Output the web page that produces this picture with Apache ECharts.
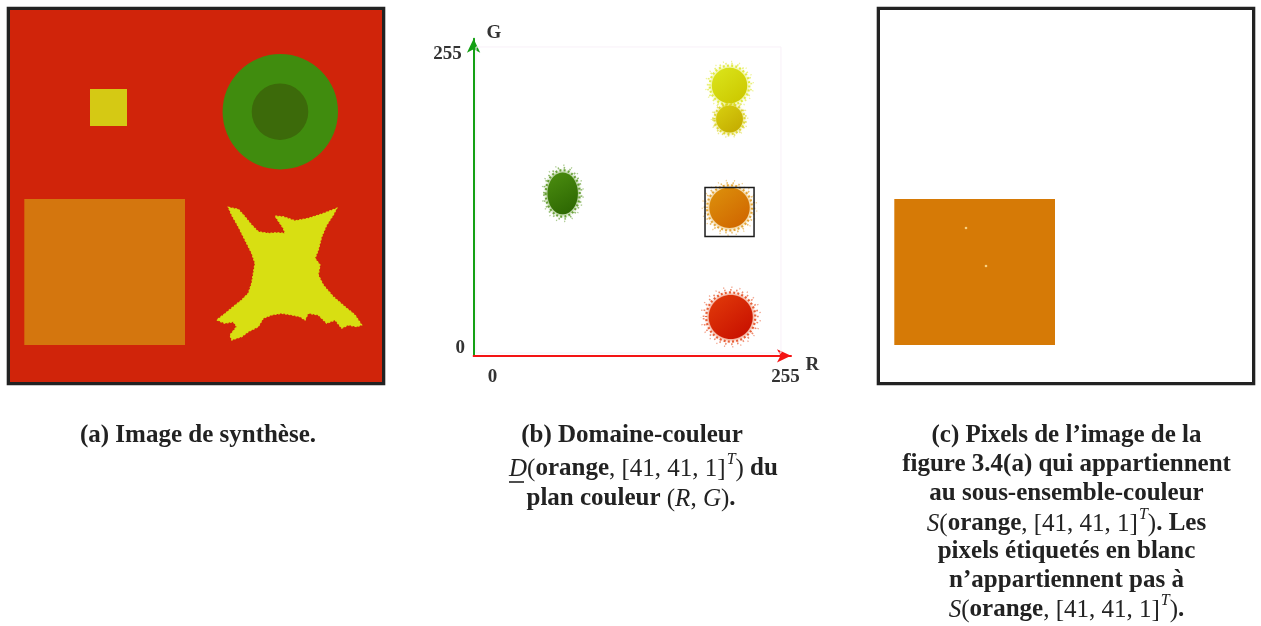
<!DOCTYPE html>
<html><head><meta charset="utf-8">
<script src="https://cdn.jsdelivr.net/npm/echarts@6/dist/echarts.min.js"></script>
<style>html,body{margin:0;padding:0;background:#fff}#c{width:1261px;height:626px}</style>
</head><body><div id="c"></div><script>
// ---------- Panel (a): synthetic image, image coordinates 0..372 (y downward)
const imageSize = 372;
const rectNames = ['carré jaune', 'rectangle orange'];
const rectX0 = [80, 14.3];
const rectY0 = [79, 189];
const rectX1 = [117, 175];
const rectY1 = [116, 335];
const rectColors = ['#d5c914', '#d4760e'];

const diskNames = ['anneau vert', 'disque vert foncé'];
const diskCX = [270.3, 270];
const diskCY = [101.7, 101.7];
const diskR = [57.7, 28.3];
const diskColors = ['#408c0e', '#3c6a0a'];

const blobX = [218.3,228.3,235,241.7,248.3,258.3,266.7,275,273.3,265,273.3,285,298.3,311.7,326.7,323.3,316.7,311.7,308.3,305,310,308.3,313.3,323.3,335,345,351.7,346.7,338.3,331.7,325,316.7,308.3,298.3,295,290,281.7,271.7,261.7,253.3,248.3,238.3,231.7,221.7,220,226.7,223.3,215,206.7,213.3,223.3,231.7,238.3,241.7,243.3,245,241.7,235,228.3,221.7];
const blobY = [197.3,199.3,206.7,215,221.7,223.3,222.7,223.3,218.3,206,206.7,210.7,208.3,204,198.3,205,215,226.7,240,248.3,255,265,275,286.7,296.7,305,315,316.7,315,318.3,310,313.3,305,303.3,310,306.7,305,303.3,305,308.3,316.7,321.7,326.7,330,325,316.7,311.7,313.3,310,305,296.7,290,283.3,273.3,263.3,253.3,243.3,230,216.7,205];

// ---------- Panel (b): colour plane (R,G)
const clusterNames = ['jaune', 'jaune foncé', 'vert', 'orange', 'rouge'];
const clusterR = [212, 212, 72.5, 212, 213];
const clusterG = [223, 195, 133, 121, 30];
const clusterSpreadR = [14.5, 11, 12.5, 16.5, 18];
const clusterSpreadG = [14.5, 11, 17, 16.5, 18];
const clusterLight = ['#dbe61c', '#d8d010', '#4c8e10', '#dd920c', '#e23c0a'];
const clusterDark  = ['#ccc800', '#c4ac00', '#2c6602', '#d06600', '#c81000'];
const boxR = [191.5, 232.5];
const boxG = [97, 138];
const tickValues = [0, 255];

// ---------- Panel (c)
const keptRectIndex = 1;
const dotX = [86, 106];
const dotY = [218, 256];

const serif = '"Liberation Serif", "DejaVu Serif", serif';

function rectItem(color) {
  return function (params, api) {
    const p0 = api.coord([api.value(0), api.value(1)]);
    const p1 = api.coord([api.value(2), api.value(3)]);
    return {type: 'rect', shape: {x: Math.min(p0[0], p1[0]), y: Math.min(p0[1], p1[1]),
      width: Math.abs(p1[0] - p0[0]), height: Math.abs(p1[1] - p0[1])},
      style: {fill: color(params.dataIndex)}};
  };
}

const rectData = rectX0.map((x, i) => [x, rectY0[i], rectX1[i], rectY1[i]]);
const diskData = diskCX.map((x, i) => [x, diskCY[i], diskR[i]]);
const clusterData = clusterR.map((r, i) => [r, clusterG[i], clusterSpreadR[i], clusterSpreadG[i]]);

const chart = echarts.init(document.getElementById('c'), null, {renderer: 'canvas'});
const hiddenX = (g) => ({gridIndex: g, type: 'value', min: 0, max: imageSize, show: false});
const hiddenY = (g) => ({gridIndex: g, type: 'value', min: 0, max: imageSize, inverse: true, show: false});

const labelFont = {fontFamily: serif, fontWeight: 'bold', fontSize: 19, color: '#333'};

function captionRich() {
  return {
    b: {fontFamily: serif, fontWeight: 'bold', fontSize: 25, fill: '#222'},
    m: {fontFamily: serif, fontWeight: 'normal', fontSize: 25, fill: '#222'},
    mi: {fontFamily: serif, fontWeight: 'normal', fontStyle: 'italic', fontSize: 25, fill: '#222'},
    sup: {fontFamily: serif, fontWeight: 'normal', fontStyle: 'italic', fontSize: 16, fill: '#222', padding: [0, 0, 18, 1]}
  };
}
function captionC() {
  const lines = [
    '{b|(c) Pixels de l’image de la}',
    '{b|figure 3.4(a) qui appartiennent}',
    '{b|au sous-ensemble-couleur}',
    '{mi|S}{m|(}{b|orange}{m|, [41, 41, 1]}{sup|T}{m|)}{b|. Les}',
    '{b|pixels étiquetés en blanc}',
    '{b|n’appartiennent pas à}',
    '{mi|S}{m|(}{b|orange}{m|, [41, 41, 1]}{sup|T}{m|)}{b|.}'
  ];
  const ys = [436, 465, 494, 524, 552, 581, 610];
  return lines.map((t, i) => ({type: 'text', z: 100, x: 1066.5, y: ys[i],
    style: {text: t, align: 'center', verticalAlign: 'middle', fill: '#222', rich: captionRich()}}));
}

chart.setOption({
  animation: false,
  backgroundColor: '#fff',
  grid: [
    {left: 10, top: 10, width: 372, height: 372, show: true, backgroundColor: '#d0240a', borderWidth: 0},
    {left: 473.6, top: 38.7, width: 317.4, height: 317.1, show: false},
    {left: 880, top: 10, width: 372, height: 372, show: true, backgroundColor: '#ffffff', borderWidth: 0}
  ],
  xAxis: [
    hiddenX(0),
    {gridIndex: 1, type: 'value', min: -2, max: 263.4,
      splitLine: {show: false}, axisTick: {show: false},
      axisLine: {show: true, onZero: false, symbol: ['none', 'arrow'], symbolSize: [10, 14],
        lineStyle: {color: '#f41414', width: 2}},
      axisLabel: {customValues: tickValues, margin: 12,
        formatter: v => v === 0 ? '{z|0}' : '{f|255}',
        rich: {z: Object.assign({padding: [0, 0, 0, 33]}, labelFont), f: Object.assign({padding: [0, 0, 0, 9]}, labelFont)}},
      name: 'R', nameLocation: 'end', nameGap: 13,
      nameTextStyle: Object.assign({align: 'left', verticalAlign: 'top'}, labelFont)},
    hiddenX(2)
  ],
  yAxis: [
    hiddenY(0),
    {gridIndex: 1, type: 'value', min: -2.3, max: 261.9,
      splitLine: {show: false}, axisTick: {show: false},
      axisLine: {show: true, onZero: false, symbol: ['none', 'arrow'], symbolSize: [10, 14],
        lineStyle: {color: '#14a014', width: 2}},
      axisLabel: {customValues: tickValues, margin: 8.6,
        formatter: v => v === 0 ? '{z|0}' : '{f|255}',
        rich: {z: Object.assign({padding: [0, 0, 10, 0]}, labelFont), f: Object.assign({padding: [14, 3.3, 0, 0]}, labelFont)}},
      name: 'G', nameLocation: 'end', nameGap: 6,
      nameTextStyle: Object.assign({padding: [0, 0, 0, 13], align: 'left', verticalAlign: 'middle'}, labelFont)},
    hiddenY(2)
  ],
  series: [
    {type: 'custom', xAxisIndex: 0, yAxisIndex: 0, data: rectData, encode: {x: [0, 2], y: [1, 3]},
      renderItem: rectItem(i => rectColors[i])},
    {type: 'custom', xAxisIndex: 0, yAxisIndex: 0, data: diskData, encode: {x: 0, y: 1},
      renderItem: (params, api) => {
        const c = api.coord([api.value(0), api.value(1)]);
        const r = api.size([api.value(2), 0])[0];
        return {type: 'circle', shape: {cx: c[0], cy: c[1], r: r}, style: {fill: diskColors[params.dataIndex]}};
      }},
    {type: 'custom', xAxisIndex: 0, yAxisIndex: 0, data: [[blobX[0], blobY[0]]], encode: {x: 0, y: 1},
      renderItem: (params, api) => ({type: 'polygon',
        shape: {points: blobX.map((x, i) => api.coord([x, blobY[i]]))},
        style: {fill: '#d8df12', stroke: '#d8df12', lineWidth: 1.2, lineDash: [2, 1.5]}})},
    // panel (b): faint plot frame
    {type: 'custom', xAxisIndex: 1, yAxisIndex: 1, data: [[tickValues[0], tickValues[0], tickValues[1], tickValues[1]]],
      encode: {x: [0, 2], y: [1, 3]}, z: 1,
      renderItem: (params, api) => {
        const p0 = api.coord([api.value(0), api.value(1)]);
        const p1 = api.coord([api.value(2), api.value(3)]);
        return {type: 'rect', shape: {x: p0[0], y: p1[1], width: p1[0] - p0[0], height: p0[1] - p1[1]},
          style: {fill: 'none', stroke: '#f8f0f8', lineWidth: 1}};
      }},
    // clusters
    {type: 'custom', xAxisIndex: 1, yAxisIndex: 1, data: clusterData, encode: {x: 0, y: 1}, z: 3,
      renderItem: (params, api) => {
        const i = params.dataIndex;
        const c = api.coord([api.value(0), api.value(1)]);
        const s = api.size([api.value(2), api.value(3)]);
        const rx = s[0], ry = s[1];
        const grad = {type: 'linear', x: 0, y: 0, x2: 0.8, y2: 1,
          colorStops: [{offset: 0, color: clusterLight[i]}, {offset: 1, color: clusterDark[i]}]};
        const ring = (k, w, dash, off, op) => ({type: 'ellipse', shape: {cx: c[0], cy: c[1], rx: rx * k, ry: ry * k},
          style: {fill: 'none', stroke: clusterLight[i], lineWidth: w, lineDash: dash, lineDashOffset: off, opacity: op}});
        return {type: 'group', children: [
          ring(1.38, 1.5, [1.2, 7], 2, 0.45),
          ring(1.26, 1.8, [1.5, 4.5], 0, 0.6),
          ring(1.14, 2.2, [2, 2.2], 1, 0.8),
          {type: 'ellipse', shape: {cx: c[0], cy: c[1], rx: rx * 1.02, ry: ry * 1.02},
            style: {fill: grad, shadowBlur: 4, shadowColor: clusterLight[i]}}
        ]};
      }},
    // selection box [41,41]
    {type: 'custom', xAxisIndex: 1, yAxisIndex: 1, data: [[boxR[0], boxG[0], boxR[1], boxG[1]]],
      encode: {x: [0, 2], y: [1, 3]}, z: 5,
      renderItem: (params, api) => {
        const p0 = api.coord([api.value(0), api.value(1)]);
        const p1 = api.coord([api.value(2), api.value(3)]);
        return {type: 'rect', shape: {x: p0[0], y: p1[1], width: p1[0] - p0[0], height: p0[1] - p1[1]},
          style: {fill: 'none', stroke: '#1c1c1c', lineWidth: 1.5}};
      }},
    // panel (c)
    {type: 'custom', xAxisIndex: 2, yAxisIndex: 2, data: [rectData[keptRectIndex]], encode: {x: [0, 2], y: [1, 3]},
      renderItem: rectItem(() => '#d67a06')},
    {type: 'custom', xAxisIndex: 2, yAxisIndex: 2, data: dotX.map((x, i) => [x, dotY[i]]), encode: {x: 0, y: 1}, z: 4,
      renderItem: (params, api) => {
        const c = api.coord([api.value(0), api.value(1)]);
        return {type: 'circle', shape: {cx: c[0], cy: c[1], r: 1.3}, style: {fill: '#f8d080'}};
      }}
  ],
  graphic: [
    {type: 'rect', z: 100, shape: {x: 8.35, y: 8.35, width: 375.3, height: 375.3}, style: {fill: 'none', stroke: '#222', lineWidth: 3.3}},
    {type: 'rect', z: 100, shape: {x: 878.35, y: 8.35, width: 375.3, height: 375.3}, style: {fill: 'none', stroke: '#222', lineWidth: 3.3}},
    // captions
    {type: 'text', z: 100, x: 198, y: 436, style: {text: '(a) Image de synthèse.', font: 'bold 25px ' + serif, fill: '#222', align: 'center', verticalAlign: 'middle'}},
    {type: 'text', z: 100, x: 632, y: 436, style: {text: '(b) Domaine-couleur', font: 'bold 25px ' + serif, fill: '#222', align: 'center', verticalAlign: 'middle'}},
    {type: 'text', z: 100, x: 509, y: 469, style: {
      text: '{mi|D}{m|(}{b|orange}{m|, [41, 41, 1]}{sup|T}{m|)}{b| du}', align: 'left', verticalAlign: 'middle', fill: '#222',
      rich: captionRich()}},
    {type: 'line', z: 100, shape: {x1: 509, y1: 482, x2: 524, y2: 482}, style: {stroke: '#222', lineWidth: 1.6}},
    {type: 'text', z: 100, x: 631, y: 499, style: {
      text: '{b|plan couleur }{m|(}{mi|R}{m|, }{mi|G}{m|)}{b|.}', align: 'center', verticalAlign: 'middle', fill: '#222',
      rich: captionRich()}},
    ...captionC()
  ]
});
</script></body></html>
